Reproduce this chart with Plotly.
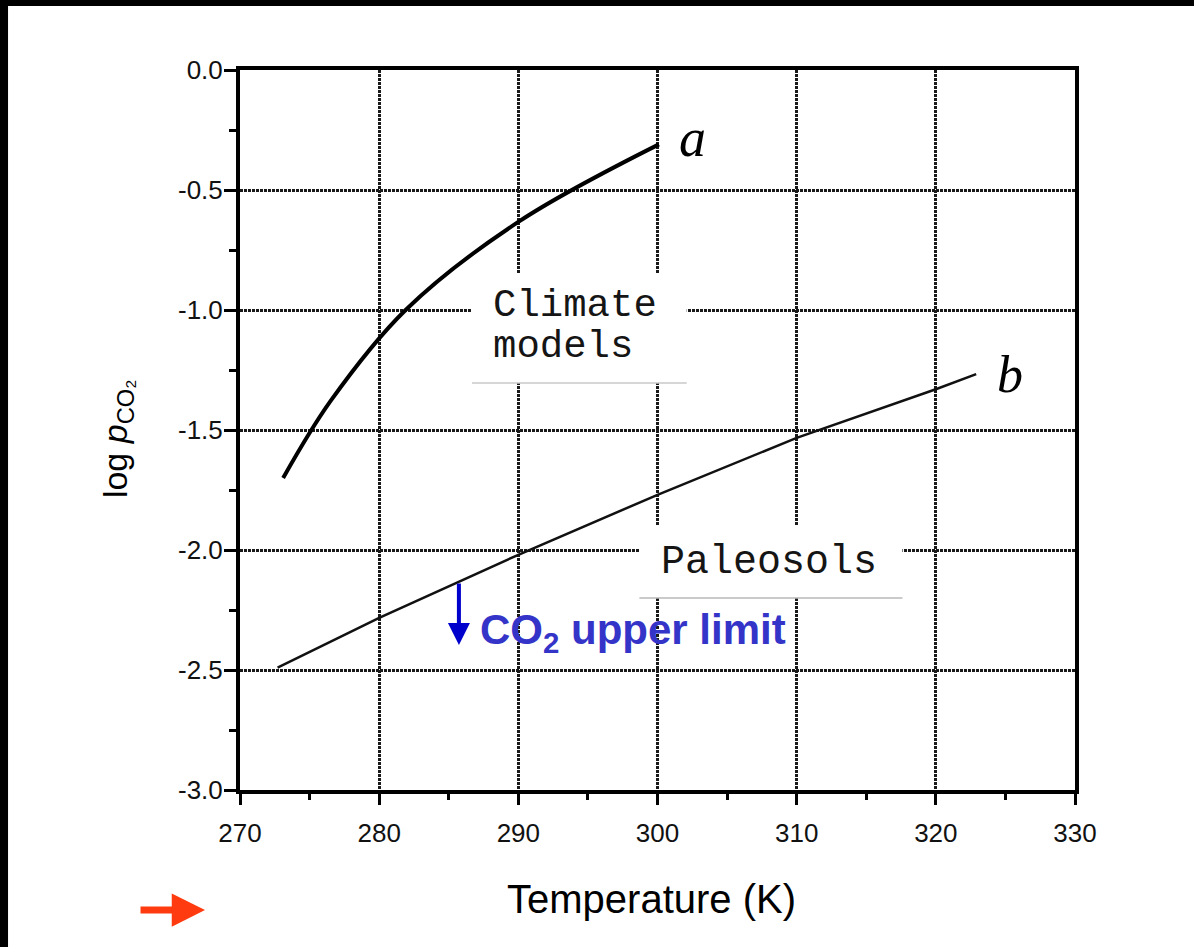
import plotly.graph_objects as go

# Curve a: climate models (T in K, log pCO2)
a_T = [273.1, 276.5, 281.9, 290.0, 300.1]
a_logp = [-1.70, -1.38, -1.00, -0.633, -0.31]
# Curve b: paleosols
b_T = [272.7, 280.0, 290.0, 300.0, 310.0, 320.0, 322.9]
b_logp = [-2.49, -2.283, -2.02, -1.77, -1.533, -1.33, -1.267]

x_ticks = [270, 280, 290, 300, 310, 320, 330]
y_ticks = [0.0, -0.5, -1.0, -1.5, -2.0, -2.5, -3.0]
y_tick_text = ["0.0", "-0.5", "-1.0", "-1.5", "-2.0", "-2.5", "-3.0"]

fig = go.Figure()
fig.add_trace(go.Scatter(x=a_T, y=a_logp, mode="lines", line=dict(color="black", width=4, shape="spline"),
                         showlegend=False, hoverinfo="skip"))
fig.add_trace(go.Scatter(x=b_T, y=b_logp, mode="lines", line=dict(color="#111", width=2.5),
                         showlegend=False, hoverinfo="skip"))

tickfont = dict(family="Liberation Sans, Arial", size=26, color="#111")
fig.update_xaxes(range=[270, 330], tickvals=x_ticks, ticktext=[str(v) for v in x_ticks],
                 showgrid=True, gridcolor="#1a1a1a", gridwidth=2.5, griddash="3px,1px",
                 showline=True, linecolor="black", linewidth=4, mirror=True,
                 ticks="outside", ticklen=11, tickwidth=3, tickcolor="black",
                 minor=dict(dtick=5, ticks="outside", ticklen=6, tickwidth=3, tickcolor="black", showgrid=False),
                 tickfont=tickfont, ticklabelstandoff=6, zeroline=False)
fig.update_yaxes(range=[-3.0, 0.0], tickvals=y_ticks, ticktext=y_tick_text,
                 showgrid=True, gridcolor="#1a1a1a", gridwidth=2.5, griddash="3px,1px",
                 showline=True, linecolor="black", linewidth=4, mirror=True,
                 ticks="outside", ticklen=12, tickwidth=3, tickcolor="black",
                 minor=dict(dtick=0.25, ticks="outside", ticklen=7, tickwidth=3, tickcolor="black", showgrid=False),
                 tickfont=tickfont, ticklabelstandoff=-4, zeroline=False)

shapes = []
# white pasted label boxes
shapes.append(dict(type="rect", xref="x", yref="y", x0=286.67, x1=302.1, y0=-1.304, y1=-0.846,
                   fillcolor="white", line=dict(width=0), layer="above"))
shapes.append(dict(type="line", xref="x", yref="y", x0=286.67, x1=302.1, y0=-1.304, y1=-1.304,
                   line=dict(color="#c8c8c8", width=1.5), layer="above"))
shapes.append(dict(type="rect", xref="x", yref="y", x0=298.7, x1=317.6, y0=-2.2, y1=-1.896,
                   fillcolor="white", line=dict(width=0), layer="above"))
shapes.append(dict(type="line", xref="x", yref="y", x0=298.7, x1=317.6, y0=-2.2, y1=-2.2,
                   line=dict(color="#b8b8b8", width=1.5), layer="above"))
# black scan border strips
shapes.append(dict(type="rect", xref="paper", yref="paper", x0=-0.3, x1=1.2, y0=1.089, y1=1.11,
                   fillcolor="black", line=dict(width=0), layer="above"))
shapes.append(dict(type="rect", xref="paper", yref="paper", x0=-0.3, x1=-0.2778, y0=-0.25, y1=1.11,
                   fillcolor="black", line=dict(width=0), layer="above"))

mono = dict(family="Liberation Mono, Courier New", size=39, color="#151515")
annotations = [
    dict(x=288.0, y=-0.985, xref="x", yref="y", text="Climate", showarrow=False, xanchor="left",
         yanchor="middle", height=40, font=mono),
    dict(x=288.0, y=-1.155, xref="x", yref="y", text="models", showarrow=False, xanchor="left",
         yanchor="middle", height=40, font=mono),
    dict(x=300.1, y=-2.05, xref="x", yref="y", text="Paleosols", showarrow=False, xanchor="left",
         yanchor="middle", font=dict(family="Liberation Mono, Courier New", size=40, color="#151515")),
    dict(x=302.5, y=-0.283, xref="x", yref="y", text="<i>a</i>", showarrow=False, xanchor="center",
         yanchor="middle", font=dict(family="Liberation Serif, Times New Roman", size=54, color="black")),
    dict(x=325.3, y=-1.267, xref="x", yref="y", text="<i>b</i>", showarrow=False, xanchor="center",
         yanchor="middle", font=dict(family="Liberation Serif, Times New Roman", size=52, color="black")),
    dict(x=287.1, y=-2.345, xref="x", yref="y", text="<b>CO<sub>2</sub> upper limit</b>", showarrow=False,
         xanchor="left", yanchor="middle", font=dict(family="Liberation Sans, Arial", size=42, color="#3434c8")),
    dict(x=285.73, y=-2.396, xref="x", yref="y", ax=285.73, ay=-2.133, axref="x", ayref="y",
         text="", showarrow=True, arrowhead=2, arrowsize=1.1, arrowwidth=4, arrowcolor="#0000cc"),
    dict(x=-0.0419, y=-0.1667, xref="paper", yref="paper", ax=-66, ay=0, text="", showarrow=True,
         arrowhead=2, arrowsize=0.95, arrowwidth=7, arrowcolor="#ff3b0f"),
    dict(x=0.493, y=-0.152, xref="paper", yref="paper", text="Temperature (K)", showarrow=False,
         yanchor="middle", font=dict(family="Liberation Sans, Arial", size=40, color="black")),
    dict(x=-0.146, y=0.4875, xref="paper", yref="paper", text="log <i>p</i><sub>CO₂</sub>", showarrow=False,
         textangle=-90, xanchor="center", yanchor="middle",
         font=dict(family="Liberation Sans, Arial", size=34, color="black")),
]

fig.update_layout(width=1194, height=947, margin=dict(l=240, r=119, t=70, b=157),
                  plot_bgcolor="white", paper_bgcolor="white",
                  shapes=shapes, annotations=annotations, showlegend=False)
fig.write_html("out.html", config={"displayModeBar": False},
               post_script="document.body.style.margin='0px';")
